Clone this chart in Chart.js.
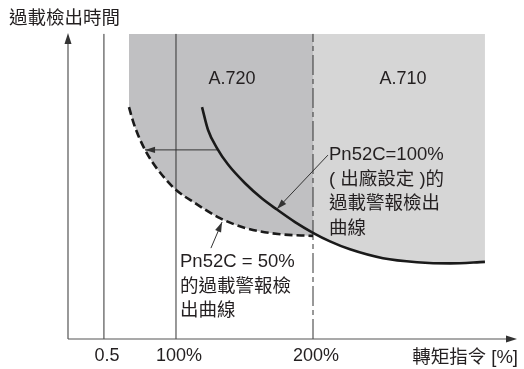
<!DOCTYPE html>
<html>
<head>
<meta charset="utf-8">
<script src="https://cdn.jsdelivr.net/npm/chart.js@4.4.0/dist/chart.umd.min.js"></script>
<style>
  html, body { margin: 0; padding: 0; background: #fff; }
  #wrap { width: 524px; height: 369px; }
</style>
</head>
<body>
<div id="wrap"><canvas id="chart" width="524" height="369"></canvas></div>
<script>
// x: torque command [%], y: overload detection time (schematic units)
var tickValues = [47.4, 100, 200];
var tickLabels = ['0.5', '100%', '200%'];

// Pn52C = 100% (factory setting)
var curve100X = [119.0, 123.4, 129.9, 138.0, 150.4, 162.8, 173.7, 186.9, 200.0, 212.4, 227.0, 251.1, 275.9, 300.0, 325.5];
var curve100Y = [75.8, 68.3, 62.4, 57.0, 50.9, 45.9, 42.3, 38.2, 34.7, 31.9, 29.3, 26.4, 25.1, 24.7, 25.2];

// Pn52C = 50%
var curve50X = [65.7, 68.6, 72.3, 77.4, 83.2, 89.8, 99.3, 113.9, 132.1, 150.4, 174.5, 200.0];
var curve50Y = [75.8, 71.2, 66.7, 61.8, 57.5, 53.6, 49.0, 44.4, 39.5, 36.3, 34.3, 33.7];

var areaTop = 99.7;

// annotation arrows (start -> tip)
var shiftArrowX = [130.7, 77.4];
var shiftArrowY = [61.8, 61.8];
var label100ArrowX = [210.9, 173.7];
var label100ArrowY = [60.1, 42.5];
var label50ArrowX = [125.5, 133.6];
var label50ArrowY = [29.7, 38.2];

var FONT = '"Liberation Sans", "Noto Sans CJK TC", sans-serif';
var INK = '#231f20';

function pts(xs, ys) {
  return xs.map(function (x, i) { return { x: x, y: ys[i] }; });
}

function head(ctx, x1, y1, x2, y2, len, half) {
  var a = Math.atan2(y2 - y1, x2 - x1);
  var c = Math.cos(a), s = Math.sin(a);
  ctx.beginPath();
  ctx.moveTo(x2, y2);
  ctx.lineTo(x2 - len * c + half * s, y2 - len * s - half * c);
  ctx.lineTo(x2 - len * c - half * s, y2 - len * s + half * c);
  ctx.closePath();
  ctx.fill();
}

var lightStart = curve100X.findIndex(function (x) { return x >= 200; });

var datasets = [{
  // 100% curve
  data: pts(curve100X, curve100Y),
  borderColor: '#1a1a1a',
  borderWidth: 2.6,
  fill: false,
  cubicInterpolationMode: 'monotone',
  order: 1
}, {
  // 50% curve, with the A.720 area above it
  data: pts(curve50X, curve50Y),
  borderColor: '#1a1a1a',
  borderWidth: 2.6,
  borderDash: [8, 4],
  backgroundColor: '#c0c0c2',
  fill: { value: areaTop },
  cubicInterpolationMode: 'monotone',
  order: 2
}, {
  // A.710 area above the 100% curve
  data: pts(curve100X.slice(lightStart), curve100Y.slice(lightStart)),
  borderWidth: 0,
  borderColor: 'rgba(0,0,0,0)',
  backgroundColor: '#d6d6d6',
  fill: { value: areaTop },
  cubicInterpolationMode: 'monotone',
  order: 10
}];

tickValues.forEach(function (v, i) {
  datasets.push({
    data: [{ x: v, y: 0 }, { x: v, y: areaTop }],
    borderColor: '#333',
    borderWidth: 1,
    borderDash: i === 2 ? [20, 4, 5, 4] : [],
    fill: false,
    order: 5
  });
});

[[shiftArrowX, shiftArrowY], [label100ArrowX, label100ArrowY], [label50ArrowX, label50ArrowY]].forEach(function (a) {
  datasets.push({
    data: pts(a[0], a[1]),
    borderColor: '#333',
    borderWidth: 1,
    fill: false,
    arrow: true,
    order: 3
  });
});

var overlay = {
  id: 'overlay',
  afterDatasetsDraw: function (chart) {
    var ctx = chart.ctx, a = chart.chartArea, xs = chart.scales.x;
    ctx.save();
    // axes
    ctx.strokeStyle = '#555';
    ctx.lineWidth = 1.2;
    ctx.beginPath();
    ctx.moveTo(a.left, a.bottom);
    ctx.lineTo(a.right - 6, a.bottom);
    ctx.moveTo(a.left, a.bottom);
    ctx.lineTo(a.left, a.top + 6);
    ctx.stroke();
    ctx.fillStyle = '#333';
    head(ctx, a.left, a.bottom, a.right, a.bottom, 11, 3.5);
    head(ctx, a.left, a.bottom, a.left, a.top, 11, 3.5);

    // arrow heads
    chart.data.datasets.forEach(function (ds, i) {
      if (!ds.arrow) return;
      var p = chart.getDatasetMeta(i).data;
      var s = p[p.length - 2], t = p[p.length - 1];
      head(ctx, s.x, s.y, t.x, t.y, 10, 3.2);
    });

    // texts
    ctx.fillStyle = INK;
    ctx.textBaseline = 'middle';
    ctx.font = '18.5px ' + FONT;
    ctx.textAlign = 'left';
    ctx.fillText('過載檢出時間', 9, 19);
    ctx.textAlign = 'right';
    ctx.fillText('轉矩指令 [%]', 518, 358);

    ctx.font = '18px ' + FONT;
    ctx.textAlign = 'center';
    tickValues.forEach(function (v, i) {
      ctx.fillText(tickLabels[i], xs.getPixelForValue(v) + 3, 356);
    });
    ctx.fillText('A.720', 232, 79);
    ctx.fillText('A.710', 403, 79);

    ctx.font = '18.5px ' + FONT;
    ctx.textAlign = 'left';
    ['Pn52C=100%', '( 出廠設定 )的', '過載警報檢出', '曲線'].forEach(function (s, i) {
      ctx.fillText(s, 329, 155 + i * 24.7);
    });
    ['Pn52C = 50%', '的過載警報檢', '出曲線'].forEach(function (s, i) {
      ctx.fillText(s, 180, 262 + i * 24.5);
    });
    ctx.restore();
  }
};

new Chart(document.getElementById('chart'), {
  type: 'line',
  data: { datasets: datasets },
  options: {
    responsive: false,
    animation: false,
    layout: { padding: { left: 68, right: 7, top: 33, bottom: 30 } },
    elements: { point: { radius: 0 } },
    scales: {
      x: { type: 'linear', display: false, min: 21.17, max: 348.9 },
      y: { type: 'linear', display: false, min: 0, max: 100 }
    },
    plugins: {
      filler: { drawTime: 'beforeDatasetsDraw' },
      legend: { display: false },
      tooltip: { enabled: false }
    }
  },
  plugins: [overlay]
});
</script>
</body>
</html>
